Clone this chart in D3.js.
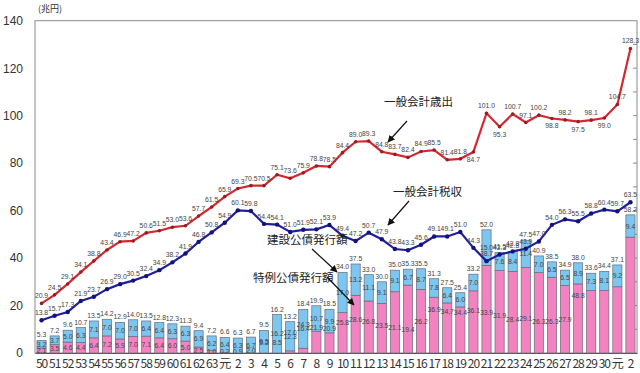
<!DOCTYPE html>
<html>
<head>
<meta charset="utf-8">
<script src="https://cdn.jsdelivr.net/npm/d3@7"></script>
<style>
  body { margin: 0; background: #fff; }
  svg { display: block; font-family: "Liberation Sans", Arial, sans-serif; }
  .jp { font-family: "Noto Sans CJK JP", sans-serif; }
</style>
</head>
<body>
<svg id="chart" width="640" height="373"></svg>
<script>
// 年度ラベル (昭和50 〜 令和2)
var years = ["50","51","52","53","54","55","56","57","58","59","60","61","62","63",
  "元","2","3","4","5","6","7","8","9","10","11","12","13","14","15","16","17","18","19","20",
  "21","22","23","24","25","26","27","28","29","30","元","2"];

// 一般会計歳出
var spending = [20.9,24.5,29.1,34.1,38.8,43.4,46.9,47.2,50.6,51.5,53.0,53.6,57.7,61.5,
  65.9,69.3,70.5,70.5,75.1,73.6,75.9,78.8,78.5,84.4,
  89.0,89.3,84.8,83.7,82.4,84.9,85.5,81.4,81.8,84.7,
  101.0,95.3,100.7,97.1,100.2,98.8,98.2,97.5,98.1,99.0,
  104.7,128.3];

// 一般会計税収
var taxRevenue = [13.8,15.7,17.3,21.9,23.7,26.9,29.0,30.5,32.4,34.9,38.2,41.9,46.8,50.8,
  54.9,60.1,59.8,54.4,54.1,51.0,51.9,52.1,53.9,49.4,
  47.2,50.7,47.9,43.8,43.3,45.6,49.1,49.1,51.0,44.3,
  38.7,41.5,42.8,43.9,47.0,54.0,56.3,55.5,58.8,60.4,
  59.7,63.5];

// 建設公債発行額
var constructionBonds = [3.2,3.7,5.0,6.3,7.1,7.0,7.0,7.0,6.4,6.4,6.3,6.3,6.9,6.2,
  6.4,6.3,6.7,9.5,16.2,12.3,16.4,10.7,9.9,17.0,
  13.2,11.1,9.1,9.1,6.7,8.7,7.8,6.4,6.0,7.0,
  15.0,7.6,8.4,11.4,7.0,6.5,6.5,8.9,7.3,8.1,
  9.2,9.4];

// 特例公債発行額
var specialBonds = [2.1,3.5,4.6,4.4,6.4,7.2,5.9,7.0,7.1,6.4,6.0,5.0,2.5,1.0,
  0.2,0,0,0,0,0.9,2.0,9.2,8.5,17.0,
  24.3,21.9,20.9,25.8,28.6,26.8,23.5,21.1,19.4,26.2,
  36.9,34.7,34.4,36.1,33.9,31.9,28.4,29.1,26.3,26.3,
  27.9,48.8];

// 公債発行総額 (棒の上のラベル)
var bondTotals = [5.3,7.2,9.6,10.7,13.5,14.2,12.9,14.0,13.5,12.8,12.3,11.3,9.4,7.2,
  6.6,6.3,6.7,9.5,16.2,13.2,18.4,19.9,18.5,34.0,
  37.5,33.0,30.0,35.0,35.3,35.5,31.3,27.5,25.4,33.2,
  52.0,42.3,42.8,47.5,40.9,38.5,34.9,38.0,33.6,34.4,
  37.1,58.2];

var yTicks = [0,20,40,60,80,100,120,140];

// 歳出ラベルを点の下に置く年度 (index)
var spendBelow = [33,35,39,41,43];

var svg = d3.select("#chart");
var plotL = 35, plotR = 637, plotT = 20.7, plotB = 353;

var x = d3.scaleBand()
  .domain(d3.range(years.length))
  .range([plotL, plotR])
  .paddingInner(0.3)
  .paddingOuter(0.15);

var y = d3.scaleLinear().domain([0, 140]).range([plotB, plotT]);

var blue = "#7cc6ef", pink = "#f283c0";

// frame
svg.append("rect")
  .attr("x", plotL).attr("y", plotT)
  .attr("width", plotR - plotL).attr("height", plotB - plotT)
  .attr("fill", "none").attr("stroke", "#8a8a8a").attr("stroke-width", 1);

// right side inner ticks every 10
svg.append("g").selectAll("line")
  .data(d3.range(10, 140, 10))
  .enter().append("line")
    .attr("x1", plotR - 4).attr("x2", plotR)
    .attr("y1", function(d) { return y(d); })
    .attr("y2", function(d) { return y(d); })
    .attr("stroke", "#8a8a8a");

// y axis
var yAxis = svg.append("g")
  .attr("transform", "translate(" + plotL + ",0)")
  .call(d3.axisLeft(y).tickValues(yTicks).tickSize(0).tickPadding(12));
yAxis.select(".domain").remove();
yAxis.selectAll("text").style("font-size", "12px").attr("fill", "#333");

// x axis
var xAxis = svg.append("g")
  .attr("transform", "translate(0," + plotB + ")")
  .call(d3.axisBottom(x).tickSize(0).tickPadding(6).tickFormat(function(i) { return years[i]; }));
xAxis.select(".domain").attr("stroke", "#555");
xAxis.selectAll("text")
  .attr("class", "jp")
  .style("font-size", "12px")
  .style("letter-spacing", "-1px")
  .attr("fill", "#333");

// stacked bars
var bars = svg.append("g");
var bw = x.bandwidth();

bars.selectAll(".pinkBar")
  .data(specialBonds)
  .enter().append("rect")
    .attr("class", "pinkBar")
    .attr("x", function(d, i) { return x(i); })
    .attr("y", function(d) { return y(d); })
    .attr("width", bw)
    .attr("height", function(d) { return plotB - y(d); })
    .attr("fill", pink)
    .attr("stroke", "#6a6a7a")
    .attr("stroke-width", 0.7);

bars.selectAll(".blueBar")
  .data(constructionBonds)
  .enter().append("rect")
    .attr("class", "blueBar")
    .attr("x", function(d, i) { return x(i); })
    .attr("y", function(d, i) { return y(d + specialBonds[i]); })
    .attr("width", bw)
    .attr("height", function(d) { return y(0) - y(d); })
    .attr("fill", blue)
    .attr("stroke", "#6a6a7a")
    .attr("stroke-width", 0.7);

// lines
var lineGen = function(vals) {
  return d3.line()
    .x(function(d, i) { return x(i) + bw / 2; })
    .y(function(d) { return y(d); })(vals);
};

svg.append("path")
  .attr("d", lineGen(spending))
  .attr("fill", "none").attr("stroke", "#d3282f").attr("stroke-width", 2.2);
svg.append("g").selectAll("circle")
  .data(spending).enter().append("circle")
    .attr("cx", function(d, i) { return x(i) + bw / 2; })
    .attr("cy", function(d) { return y(d); })
    .attr("r", 1.8)
    .attr("fill", "#9b1b22");

svg.append("path")
  .attr("d", lineGen(taxRevenue))
  .attr("fill", "none").attr("stroke", "#1f1f9a").attr("stroke-width", 2.2);
svg.append("g").selectAll("circle")
  .data(taxRevenue).enter().append("circle")
    .attr("cx", function(d, i) { return x(i) + bw / 2; })
    .attr("cy", function(d) { return y(d); })
    .attr("r", 2.2)
    .attr("fill", "#13137a");

// value labels
var labels = svg.append("g")
  .style("font-size", "6.8px")
  .attr("fill", "#444")
  .attr("text-anchor", "middle");

labels.selectAll(".spendLabel")
  .data(spending).enter().append("text")
    .attr("x", function(d, i) { return x(i) + bw / 2; })
    .attr("y", function(d, i) { return spendBelow.indexOf(i) >= 0 ? y(d) + 10 : y(d) - 5; })
    .text(function(d) { return d.toFixed(1); });

labels.selectAll(".taxLabel")
  .data(taxRevenue).enter().append("text")
    .attr("x", function(d, i) { return x(i) + bw / 2; })
    .attr("y", function(d) { return y(d) - 5; })
    .text(function(d) { return d.toFixed(1); });

labels.selectAll(".totalLabel")
  .data(bondTotals).enter().append("text")
    .attr("x", function(d, i) { return x(i) + bw / 2; })
    .attr("y", function(d) { return y(d) - 3; })
    .text(function(d) { return d.toFixed(1); });

labels.selectAll(".blueLabel")
  .data(constructionBonds).enter().append("text")
    .attr("x", function(d, i) { return x(i) + bw / 2; })
    .attr("y", function(d, i) { return y(specialBonds[i] + d / 2) + 2.5; })
    .text(function(d) { return d.toFixed(1); });

labels.selectAll(".pinkLabel")
  .data(specialBonds).enter().append("text")
    .filter(function(d) { return d > 0; })
    .attr("x", function(d, i) { return x(i) + bw / 2; })
    .attr("y", function(d) { return d < 1.5 ? plotB + 1 : y(d / 2) + 2.5; })
    .text(function(d) { return d.toFixed(1); });

// unit
svg.append("text").attr("class", "jp")
  .attr("x", 38).attr("y", 12)
  .style("font-size", "9px").attr("fill", "#333")
  .text("(兆円)");

// annotations
svg.append("defs").append("marker")
  .attr("id", "arrow")
  .attr("viewBox", "0 0 10 10")
  .attr("refX", 9).attr("refY", 5)
  .attr("markerWidth", 6).attr("markerHeight", 6)
  .attr("orient", "auto")
  .append("path").attr("d", "M0,0L10,5L0,10z").attr("fill", "#111");

var notes = [
  {text: "一般会計歳出", tx: 384, ty: 106, ax1: 407, ay1: 121, ax2: 388, ay2: 142},
  {text: "一般会計税収", tx: 393, ty: 196, ax1: 409, ay1: 201, ax2: 388, ay2: 225},
  {text: "建設公債発行額", tx: 267, ty: 244, ax1: 312, ay1: 249, ax2: 337, ay2: 272},
  {text: "特例公債発行額", tx: 253, ty: 282, ax1: 327, ay1: 277, ax2: 354, ay2: 305}
];

notes.forEach(function(n) {
  svg.append("text").attr("class", "jp")
    .attr("x", n.tx).attr("y", n.ty)
    .style("font-size", "11.5px").attr("fill", "#222")
    .text(n.text);
  svg.append("line")
    .attr("x1", n.ax1).attr("y1", n.ay1)
    .attr("x2", n.ax2).attr("y2", n.ay2)
    .attr("stroke", "#111").attr("stroke-width", 1.2)
    .attr("marker-end", "url(#arrow)");
});
</script>
</body>
</html>
